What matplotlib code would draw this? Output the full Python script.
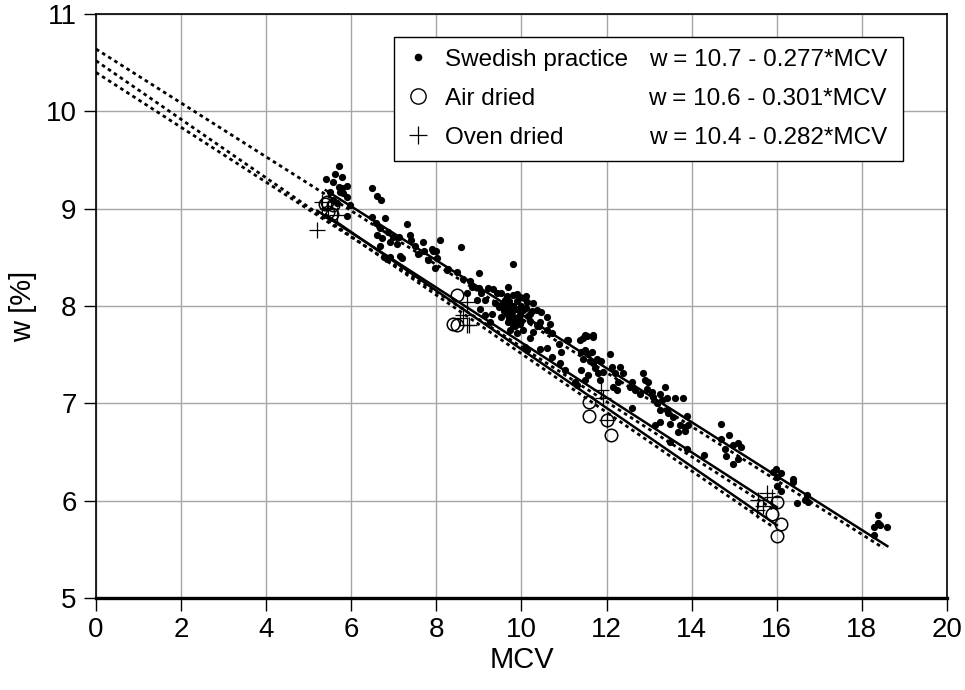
import numpy as np
import matplotlib
matplotlib.use("Agg")
import matplotlib.pyplot as plt
from matplotlib.lines import Line2D

plt.rcParams['font.family'] = ['Liberation Sans', 'DejaVu Sans']

# Swedish practice
swedish_mcv = [5.70, 5.62, 5.77, 5.41, 5.58, 5.70, 5.77, 5.89, 5.81, 5.89, 5.73, 5.50, 5.58, 5.66, 5.97, 5.89,
               6.48, 6.60, 6.69, 6.79, 6.48, 6.58, 6.67, 6.61, 6.71, 6.67, 6.91, 7.11, 7.30, 7.38, 7.40, 7.50,
               7.69, 7.71, 7.89, 7.99, 8.08, 8.01, 7.81, 7.57, 7.14, 7.18, 6.83, 6.77, 6.91, 8.24, 7.97, 6.87,
               6.99, 7.07, 8.59, 7.93,
               8.28, 8.49, 8.63, 8.79, 8.99, 9.79, 8.83, 8.99, 9.06, 9.22, 9.34, 9.42, 9.69, 9.53, 9.61, 9.81,
               9.96, 10.12, 10.28, 9.73, 9.89, 10.04, 10.20, 10.36, 10.47, 10.59, 10.43, 10.67, 10.36, 10.20,
               9.96, 9.85, 9.69, 9.53, 9.65, 9.81, 9.96, 9.77, 9.61, 9.46, 9.38, 9.30, 9.14, 9.26, 9.02, 8.95,
               9.14, 8.71, 10.59, 10.71, 10.28, 10.20, 10.08, 10.12, 10.43, 10.59, 10.71, 11.06, 10.87, 10.94,
               10.90, 11.02, 10.40, 10.04, 9.73, 9.89,
               9.70, 9.80, 9.90, 10.00, 10.10, 9.75, 9.85, 9.95, 10.05, 9.90, 10.15, 9.65, 9.60, 10.00, 9.80,
               10.10, 9.70, 9.92, 10.25, 9.55,
               11.10, 11.44, 11.53, 11.69, 11.39, 11.49, 11.57, 11.65, 11.45, 11.61, 11.69, 11.77, 11.88, 11.41,
               11.57, 11.49, 11.73, 11.80, 11.84, 11.92, 12.08, 12.12, 12.20, 12.31, 12.28, 12.39, 12.16, 12.24,
               12.59, 12.59, 12.55, 12.86, 12.90, 12.98, 12.94, 13.06, 13.10, 13.26, 13.37, 13.30, 13.41, 13.61,
               13.80, 13.18, 13.26, 13.41, 13.45, 13.57, 13.26, 13.14, 13.49, 13.73, 13.84, 13.88, 13.69, 13.84,
               13.92, 13.49, 13.88, 12.79, 12.67, 11.26, 11.30, 11.37, 11.49, 11.68,
               14.69, 14.69, 14.88, 14.78, 14.98, 15.10, 15.17, 14.81, 14.98, 15.10, 14.29, 15.90, 15.98, 16.09,
               16.01, 16.00, 16.09, 16.39, 16.39, 16.70, 16.66, 16.48, 16.74, 18.39, 18.28, 18.39, 18.58, 18.28,
               18.43]
swedish_w = [9.44, 9.36, 9.33, 9.30, 9.27, 9.22, 9.21, 9.23, 9.16, 9.12, 9.17, 9.17, 9.09, 9.06, 9.04, 8.92,
             9.21, 9.13, 9.09, 8.90, 8.91, 8.85, 8.80, 8.73, 8.70, 8.62, 8.66, 8.71, 8.84, 8.73, 8.68, 8.62,
             8.66, 8.57, 8.59, 8.57, 8.68, 8.49, 8.47, 8.53, 8.51, 8.49, 8.48, 8.50, 8.50, 8.37, 8.39, 8.76,
             8.71, 8.64, 8.61, 8.57,
             8.38, 8.35, 8.28, 8.26, 8.34, 8.43, 8.20, 8.18, 8.13, 8.18, 8.17, 8.13, 8.20, 8.13, 8.06, 8.11,
             8.09, 8.04, 8.03, 8.01, 7.97, 7.96, 7.92, 7.96, 7.94, 7.89, 7.84, 7.82, 7.80, 7.85,
             7.82, 7.79, 7.84, 7.89, 7.92, 7.89, 7.91, 7.94, 7.97, 7.99, 8.03, 7.92, 7.91, 7.84, 7.97, 8.06,
             8.06, 8.13, 7.75, 7.72, 7.73, 7.67, 7.58, 7.55, 7.56, 7.57, 7.48, 7.65, 7.61, 7.53,
             7.41, 7.34, 7.79, 7.75, 7.75, 7.72,
             8.05, 8.00, 8.05, 8.00, 7.98, 7.95, 7.85, 7.90, 8.08, 8.12, 7.90, 8.10, 7.95, 7.85, 7.80,
             8.10, 7.88, 7.97, 7.95, 8.02,
             7.65, 7.67, 7.69, 7.70, 7.53, 7.55, 7.51, 7.53, 7.46, 7.44, 7.41, 7.46, 7.44, 7.34,
             7.29, 7.24, 7.36, 7.31, 7.24, 7.32, 7.51, 7.37, 7.31, 7.37, 7.22, 7.31, 7.17, 7.14,
             7.22, 6.95, 7.17, 7.31, 7.24, 7.22, 7.15, 7.12, 7.07, 7.10, 7.17, 7.03, 7.05, 7.05,
             7.05, 7.00, 6.93, 6.93, 6.90, 6.86, 6.81, 6.78, 6.79, 6.78, 6.76, 6.87, 6.71, 6.72,
             6.78, 6.60, 6.53, 7.10, 7.14, 7.22, 7.19, 7.65, 7.70, 7.68,
             6.79, 6.63, 6.67, 6.53, 6.57, 6.59, 6.55, 6.46, 6.38, 6.43, 6.47, 6.29, 6.33, 6.28,
             6.24, 6.15, 6.10, 6.22, 6.19, 6.06, 6.01, 5.98, 5.99, 5.85, 5.73, 5.77, 5.73, 5.65,
             5.75]

# Air dried
air_mcv = [5.38, 5.46, 5.58, 5.54, 5.43, 8.40, 8.49, 8.48, 11.59, 11.59, 12.00, 12.10, 16.00, 15.88, 16.09, 16.00]
air_w = [9.05, 8.97, 9.04, 8.95, 9.07, 7.82, 7.80, 8.11, 7.01, 6.87, 6.83, 6.67, 5.99, 5.86, 5.76, 5.64]

# Oven dried
oven_mcv = [5.30, 5.19, 5.66, 5.46, 8.71, 8.63, 8.71, 8.77, 8.55, 11.88, 11.92, 12.00, 15.78, 15.57, 15.68, 15.88, 15.53]
oven_w = [9.07, 8.78, 8.93, 9.00, 8.04, 7.91, 7.80, 7.80, 7.88, 7.14, 7.05, 6.83, 6.08, 6.01, 5.95, 6.04, 5.90]

# regression lines: (intercept, slope, first MCV, last MCV)
series_names = ['Swedish practice', 'Air dried', 'Oven dried']
equations = ['w = 10.7 - 0.277*MCV', 'w = 10.6 - 0.301*MCV', 'w = 10.4 - 0.282*MCV']
fit_intercept = [10.64, 10.52, 10.40]
fit_slope = [0.277, 0.301, 0.282]
fit_start = [5.4, 5.4, 5.2]
fit_end = [18.6, 16.0, 16.0]
solid_shift = 0.045

fig = plt.figure(figsize=(9.65, 6.9), dpi=100)
ax = fig.add_axes([0.0995, 0.1333, 0.8818, 0.8464])

for b0, b1, x0, x1 in zip(fit_intercept, fit_slope, fit_start, fit_end):
    xd = np.array([0, x1 - 0.1])
    ax.plot(xd, b0 - b1 * xd, color='black', lw=2.0, ls=(0, (1.3, 1.3)), zorder=3)
    xs = np.array([x0, x1])
    ax.plot(xs, b0 + solid_shift - b1 * xs, color='black', lw=1.8, zorder=3)

ax.plot(swedish_mcv, swedish_w, 'o', color='black', ms=5.2, mew=0, zorder=4)
ax.plot(air_mcv, air_w, 'o', mfc='none', mec='black', ms=9, mew=1.1, zorder=4)
ax.plot(oven_mcv, oven_w, '+', color='black', ms=11, mew=0.9, zorder=4)

ax.set_xlim(0, 20)
ax.set_ylim(5, 11)
ax.set_xticks(np.arange(0, 21, 2))
ax.set_yticks(np.arange(5, 12, 1))
ax.grid(True, color='#a6a6a6', lw=1.0)
ax.set_axisbelow(True)
ax.tick_params(labelsize=20, length=9, width=1, direction='out', pad=5)
for side in ['top', 'right', 'left']:
    ax.spines[side].set_linewidth(1.2)
ax.spines['bottom'].set_linewidth(2.4)
ax.set_xlabel('MCV', fontsize=21, labelpad=2)
ax.set_ylabel('w [%]', fontsize=21, labelpad=6)

handles = [Line2D([], [], ls='none', marker='o', color='black', ms=5.5, mew=0),
           Line2D([], [], ls='none', marker='o', mfc='none', mec='black', ms=11, mew=1.0),
           Line2D([], [], ls='none', marker='+', color='black', ms=13, mew=0.9)]
leg = ax.legend(handles, series_names, loc='upper left', bbox_to_anchor=(0.350, 0.747, 0.598, 0.214),
                mode='expand', borderaxespad=0, fontsize=17.5, frameon=True, fancybox=False,
                edgecolor='black', framealpha=1, handlelength=1.0, handletextpad=0.6,
                labelspacing=0.70, borderpad=0.5)
leg.get_frame().set_linewidth(1.0)
leg.set_zorder(5)

row_y = [0.921, 0.855, 0.788]
for eq, yy in zip(equations, row_y):
    ax.text(0.9295, yy, eq, transform=ax.transAxes, ha='right', va='center', fontsize=17.5, zorder=6)

fig.savefig('out.png', dpi=100)
